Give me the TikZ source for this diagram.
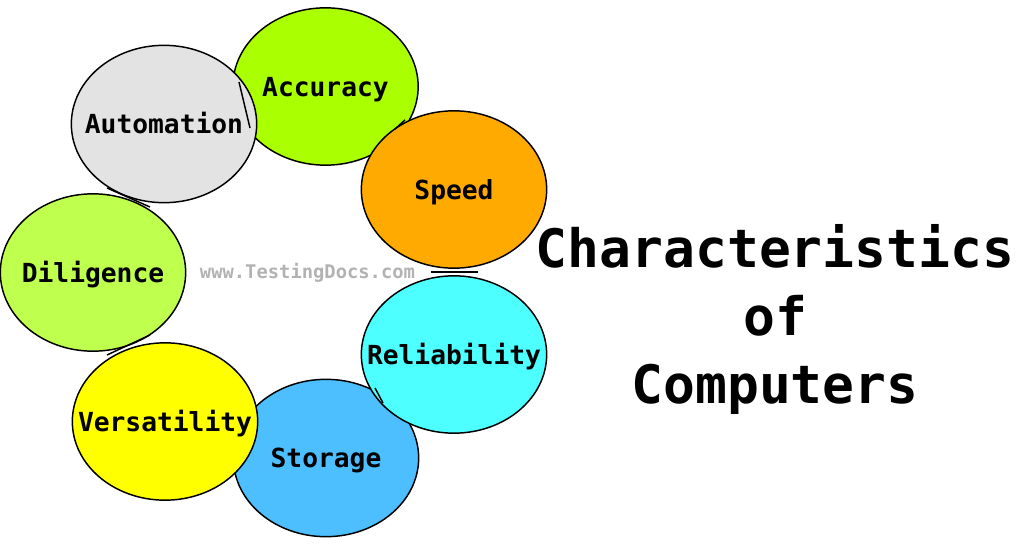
\documentclass[tikz,border=0pt]{standalone}
\usepackage{fontspec}
\setmonofont{DejaVu Sans Mono}
\usetikzlibrary{shapes.geometric}
\definecolor{cAccuracy}{RGB}{170,255,0}
\definecolor{cAutomation}{RGB}{227,227,227}
\definecolor{cSpeed}{RGB}{255,170,0}
\definecolor{cDiligence}{RGB}{191,255,77}
\definecolor{cReliability}{RGB}{77,255,255}
\definecolor{cStorage}{RGB}{77,191,255}
\definecolor{cVersatility}{RGB}{255,255,0}
\newcommand{\traitname}[1]{\makebox[0pt]{#1}}
\tikzset{
  trait/.style={ellipse,draw=black,line width=1.1pt,inner sep=0pt,minimum width=139pt,minimum height=118pt,
    font=\ttfamily\bfseries\fontsize{19.7}{20}\selectfont,text height=17pt,text depth=2.5pt},
  link/.style={line width=1.1pt,black}
}
\begin{document}
\begin{tikzpicture}[x=0.75pt,y=-0.75pt]
    \useasboundingbox (0,0) rectangle (1024,549);
    \node[trait,fill=cAccuracy] (accuracy) at (325.5,86.5) {\traitname{Accuracy}};
    \node[trait,fill=cDiligence] (diligence) at (93,272.5) {\traitname{Diligence}};
    \node[trait,fill=cAutomation] (automation) at (164,124) {\traitname{Automation}};
    \node[trait,fill=cStorage] (storage) at (326,458) {\traitname{Storage}};
    \node[trait,fill=cVersatility] (versatility) at (165,421.5) {\traitname{Versatility}};
    \node[trait,fill=cReliability] (reliability) at (454,354.5) {\traitname{Reliability}};
    \node[trait,fill=cSpeed] (speed) at (454,189.5) {\traitname{Speed}};
    \node[font=\ttfamily\bfseries\fontsize{14.1}{16}\selectfont,text=black!30] (site) at (307.5,273) {www.TestingDocs.com};
    \node[font=\ttfamily\bfseries\fontsize{39.7}{51}\selectfont,align=center] (title) at (775,319) {Characteristics\\of\\Computers};
    \coordinate (a1) at (239,82);
    \coordinate (a2) at (250,128);
    \coordinate (b1) at (431,272);
    \coordinate (b2) at (478,272);
    \coordinate (c1) at (107,188);
    \coordinate (c2) at (150,207);
    \coordinate (d1) at (107,355);
    \coordinate (d2) at (150,335);
    \coordinate (e1) at (395,129);
    \coordinate (e2) at (405,120);
    \coordinate (f1) at (375,388);
    \coordinate (f2) at (383,403);
    \draw[link] (a1) -- (a2);
    \draw[link] (b1) -- (b2);
    \draw[link] (c1) -- (c2);
    \draw[link] (d1) -- (d2);
    \draw[link] (e1) -- (e2);
    \draw[link] (f1) -- (f2);
\end{tikzpicture}
\end{document}
